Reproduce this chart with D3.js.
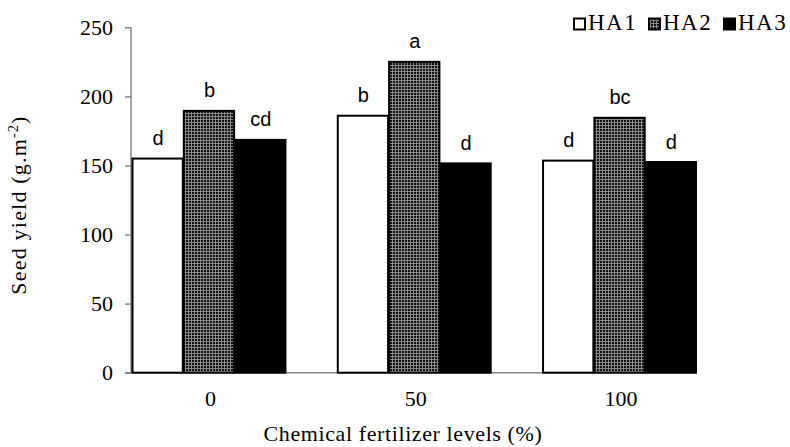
<!DOCTYPE html>
<html><head><meta charset="utf-8">
<script src="https://cdn.jsdelivr.net/npm/d3@7"></script>
<style>body{margin:0;background:#fff}svg{display:block}</style>
</head><body>
<script>
const categories = ["0", "50", "100"];
const seriesNames = ["HA1", "HA2", "HA3"];
const HA1 = [155, 186, 153.5];
const HA2 = [189.5, 225, 184.5];
const HA3 = [168.5, 151.5, 152.5];
const letters1 = ["d", "b", "d"];
const letters2 = ["b", "a", "bc"];
const letters3 = ["cd", "d", "d"];
const yTicks = [0, 50, 100, 150, 200, 250];

const SERIF = '"Liberation Serif", "Times New Roman", Tinos, serif';
const SANS = '"Liberation Sans", Arial, sans-serif';

const W = 790, H = 447;
const svg = d3.select("body").append("svg").attr("width", W).attr("height", H);
const defs = svg.append("defs");
const pat = defs.append("pattern").attr("id", "ha2").attr("patternUnits", "userSpaceOnUse")
  .attr("width", 3).attr("height", 3);
pat.append("rect").attr("width", 3).attr("height", 3).attr("fill", "#111");
pat.append("rect").attr("x", 0).attr("y", 2).attr("width", 3).attr("height", 1).attr("fill", "#8a8a8a");
pat.append("rect").attr("x", 2).attr("y", 0).attr("width", 1).attr("height", 3).attr("fill", "#8a8a8a");

const x0 = d3.scaleBand().domain(categories).range([131.5, 696]).paddingInner(0.25).paddingOuter(0);
const x1 = d3.scaleBand().domain(seriesNames).range([0, x0.bandwidth()]);
const y = d3.scaleLinear().domain([0, 250]).range([372.7, 27.3]);

const series = [
  {name: "HA1", vals: HA1, lab: letters1, fill: "#fff"},
  {name: "HA2", vals: HA2, lab: letters2, fill: "url(#ha2)"},
  {name: "HA3", vals: HA3, lab: letters3, fill: "#000"}
];

// axes
const yAxis = svg.append("g").attr("transform", "translate(131,0)")
  .call(d3.axisLeft(y).tickValues(yTicks).tickSize(6).tickPadding(12));
yAxis.select(".domain").attr("stroke", "#868686").attr("stroke-width", 1.5).attr("d", "M0,27.3V372.7");
yAxis.selectAll(".tick line").attr("stroke", "#868686").attr("stroke-width", 1.5);
yAxis.selectAll("text").style("font-family", SERIF).style("font-size", "22px").attr("fill", "#000");

const xAxis = svg.append("g").attr("transform", "translate(0,372.7)")
  .call(d3.axisBottom(x0).tickSize(0).tickPadding(18));
xAxis.select(".domain").attr("stroke", "#868686").attr("stroke-width", 1.5).attr("d", "M125,0H696");
xAxis.selectAll("text").style("font-family", SERIF).style("font-size", "22px").attr("fill", "#000").attr("dx", 2);

// bars
const groups = svg.append("g");
series.forEach(s => {
  groups.selectAll(null).data(categories).enter().append("rect")
    .attr("x", (c) => x0(c) + x1(s.name) + 1)
    .attr("y", (c, i) => y(s.vals[i]))
    .attr("width", x1.bandwidth() - 1)
    .attr("height", (c, i) => y(0) - y(s.vals[i]))
    .attr("fill", s.fill).attr("stroke", "#000").attr("stroke-width", 2);
  groups.selectAll(null).data(categories).enter().append("text")
    .attr("x", (c) => x0(c) + x1(s.name) + x1.bandwidth() / 2 + 1)
    .attr("y", (c, i) => y(s.vals[i]) - 13.5)
    .attr("text-anchor", "middle")
    .style("font-family", SANS).style("font-size", "20px")
    .text((c, i) => s.lab[i]);
});

// axis titles
svg.append("text").attr("transform", "translate(26,205) rotate(-90)")
  .attr("text-anchor", "middle").style("font-family", SERIF).style("font-size", "22px").style("letter-spacing", "1.2px")
  .html('Seed yield (g.m<tspan dy="-8" style="font-size:14px">-2</tspan><tspan dy="8">)</tspan>');
svg.append("text").attr("x", 403).attr("y", 441)
  .attr("text-anchor", "middle").style("font-family", SERIF).style("font-size", "22px").style("letter-spacing", "0.6px")
  .text("Chemical fertilizer levels (%)");

// legend
const legX = [574, 649, 724];
const leg = svg.append("g");
series.forEach((s, i) => {
  leg.append("rect").attr("x", legX[i]).attr("y", 18.5).attr("width", 11).attr("height", 11)
    .attr("fill", s.fill).attr("stroke", "#000").attr("stroke-width", 2);
  leg.append("text").attr("x", legX[i] + 14).attr("y", 30)
    .style("font-family", SERIF).style("font-size", "23px").style("letter-spacing", "1.5px")
    .text(s.name);
});
</script>
</body></html>
